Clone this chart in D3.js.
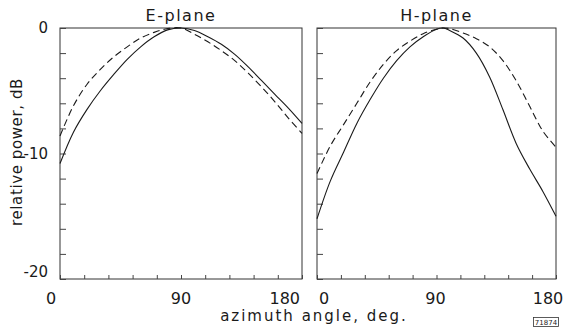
<!DOCTYPE html>
<html>
<head>
<meta charset="utf-8">
<script src="https://cdn.jsdelivr.net/npm/d3@7"></script>
<style>
  body { margin: 0; background: #fff; }
  svg { display: block; }
  text { font-family: "DejaVu Sans", sans-serif; fill: #1a1a1a; }
  .tick line { stroke: #444; }
  .curve { fill: none; stroke: #1a1a1a; stroke-width: 1.1; }
  .dashed { stroke-dasharray: 7,4; }
</style>
</head>
<body>
<div id="chart"></div>
<script>
// azimuth angles (deg) that the curves were read at
const angles = [0, 10, 20, 30, 40, 50, 60, 70, 80, 90, 100, 110, 120, 130, 140, 150, 160, 170, 180];

// E-plane, relative power (dB)
const eSolid  = [-10.8, -8.3, -6.5, -5.0, -3.7, -2.5, -1.5, -0.7, -0.15, 0, -0.2, -0.7, -1.3, -2.1, -3.1, -4.2, -5.3, -6.4, -7.6];
const eDashed = [-8.6, -6.2, -4.5, -3.3, -2.3, -1.5, -0.8, -0.35, -0.05, 0, -0.5, -1.1, -1.8, -2.6, -3.6, -4.7, -5.9, -7.2, -8.4];

// H-plane, relative power (dB)
const hAngles = [0, 10, 20, 30, 40, 50, 60, 70, 80, 90, 95, 100, 110, 120, 130, 140, 150, 160, 170, 180];
const hSolid  = [-15.2, -12.2, -9.9, -7.6, -5.7, -4.0, -2.6, -1.5, -0.7, -0.1, 0, -0.2, -0.8, -2.0, -3.9, -6.5, -9.2, -11.2, -13.0, -15.0];
const hDashed = [-11.6, -9.4, -7.7, -6.0, -4.3, -2.9, -1.8, -1.05, -0.45, -0.1, 0, -0.05, -0.4, -0.85, -1.5, -2.6, -4.2, -6.2, -8.2, -9.5];

const xTicks = d3.range(0, 181, 18);
const xLabels = [0, 90, 180];
const yTicks = d3.range(-20, 1, 2);
const yLabels = [0, -10, -20];

const width = 565;
const height = 333;

const svg = d3.select('#chart').append('svg')
  .attr('width', width)
  .attr('height', height);

const y = d3.scaleLinear().domain([-20, 0]).range([279, 28]);

const panels = [
  { title: 'E-plane', range: [60, 302], ang: angles, solid: eSolid, dashed: eDashed },
  { title: 'H-plane', range: [317, 556], ang: hAngles, solid: hSolid, dashed: hDashed }
];

panels.forEach((p, i) => {
  const x = d3.scaleLinear().domain([0, 180]).range(p.range);

  // frame
  svg.append('rect')
    .attr('x', p.range[0])
    .attr('y', y(0))
    .attr('width', p.range[1] - p.range[0])
    .attr('height', y(-20) - y(0))
    .attr('fill', 'none')
    .attr('stroke', '#333')
    .attr('stroke-width', 1);

  // bottom ticks, pointing inward
  const xAxis = svg.append('g')
    .attr('transform', `translate(0, ${y(-20)})`)
    .call(d3.axisBottom(x).tickValues(xTicks).tickSizeInner(-4).tickSizeOuter(0).tickFormat(''));
  xAxis.select('.domain').remove();

  // left ticks, pointing inward
  const yAxis = svg.append('g')
    .attr('transform', `translate(${p.range[0]}, 0)`)
    .call(d3.axisLeft(y).tickValues(yTicks).tickSizeInner(-6).tickSizeOuter(0).tickFormat(''));
  yAxis.select('.domain').remove();

  // x labels
  const nudge = i === 0 ? { 0: -9, 90: 0, 180: -2 } : { 0: 2, 90: -1, 180: -8 };
  const anchor = i === 0 ? { 0: 'middle', 90: 'middle', 180: 'end' } : { 0: 'start', 90: 'middle', 180: 'middle' };
  svg.selectAll(null)
    .data(xLabels)
    .enter().append('text')
    .attr('x', (d) => x(d) + nudge[d])
    .attr('y', 304)
    .attr('text-anchor', (d) => anchor[d])
    .attr('font-size', 16)
    .text((d) => d);

  // title
  svg.append('text')
    .attr('x', x(90))
    .attr('y', 21)
    .attr('text-anchor', 'middle')
    .attr('font-size', 16)
    .attr('letter-spacing', 1.5)
    .text(p.title);

  const line = d3.line()
    .x((d, k) => x(p.ang[k]))
    .y((d) => y(d))
    .curve(d3.curveCatmullRom);

  svg.append('path')
    .datum(p.solid)
    .attr('class', 'curve')
    .attr('d', line);

  svg.append('path')
    .datum(p.dashed)
    .attr('class', 'curve dashed')
    .attr('d', line);
});

// y labels on the left panel only
svg.selectAll(null)
  .data(yLabels)
  .enter().append('text')
  .attr('x', 48)
  .attr('y', (d) => y(d) + (d === -20 ? -2 : 5))
  .attr('text-anchor', 'end')
  .attr('font-size', 15)
  .text((d) => d);

// axis titles
svg.append('text')
  .attr('transform', 'translate(22, 152) rotate(-90)')
  .attr('text-anchor', 'middle')
  .attr('font-size', 15)
  .attr('letter-spacing', 0.6)
  .text('relative  power, dB');

svg.append('text')
  .attr('x', 314)
  .attr('y', 321)
  .attr('text-anchor', 'middle')
  .attr('font-size', 15)
  .attr('letter-spacing', 2)
  .text('azimuth angle, deg.');

// figure number box
svg.append('rect')
  .attr('x', 533.5)
  .attr('y', 317.5)
  .attr('width', 25)
  .attr('height', 9)
  .attr('fill', 'none')
  .attr('stroke', '#333')
  .attr('stroke-width', 0.8);

svg.append('text')
  .attr('x', 546)
  .attr('y', 325)
  .attr('text-anchor', 'middle')
  .attr('font-size', 7)
  .text('71874');
</script>
</body>
</html>
